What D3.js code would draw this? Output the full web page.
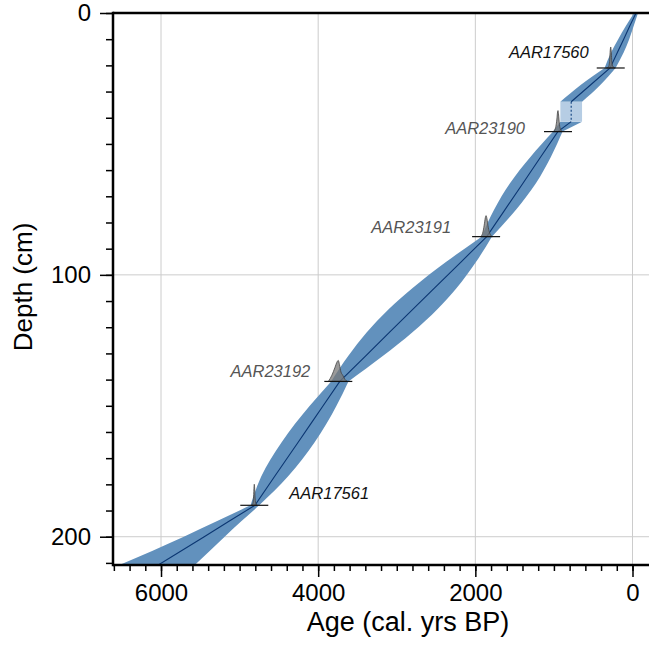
<!DOCTYPE html>
<html>
<head>
<meta charset="utf-8">
<script src="https://cdn.jsdelivr.net/npm/d3@7"></script>
<style>
  html, body { margin: 0; padding: 0; background: #ffffff; }
  svg { display: block; font-family: 'Liberation Sans', Arial, sans-serif; }
</style>
</head>
<body>
<svg id="age-depth"></svg>
<script>
// Age-depth model, depth in cm, ages in cal. yrs BP
const modelDepths = [0, 5, 10, 15, 21, 27.5, 33.9, 41.5, 45.3, 55, 65, 75, 85.4, 95, 105, 113, 122, 131, 140.7, 150, 157, 164, 177, 188, 194, 200, 210.8];
const ageMedian   = [-45, 35, 112, 191, 285, 535, 780, 780, 950, 1169, 1394, 1620, 1855, 2180, 2518, 2790, 3094, 3398, 3725, 3937, 4097, 4257, 4555, 4805, 5130, 5450, 6035];
const ageMin      = [-70, -15, 42, 111, 215, 410, 642, 642, 890, 1039, 1229, 1480, 1790, 1990, 2238, 2480, 2804, 3178, 3615, 3767, 3897, 4047, 4385, 4750, 4975, 5190, 5570];
const ageMax      = [-20, 85, 182, 271, 355, 660, 918, 918, 1010, 1299, 1559, 1760, 1920, 2370, 2798, 3100, 3384, 3618, 3835, 4107, 4297, 4467, 4725, 4860, 5285, 5710, 6530];

// Slump (instantaneous deposit), top and bottom depth
const slumpDepths = [33.9, 41.5];

// Radiocarbon dates
const dateLabels = ['AAR17560', 'AAR23190', 'AAR23191', 'AAR23192', 'AAR17561'];
const dateDepths = [21, 45.3, 85.4, 140.7, 188];
const dateGroups = ['a', 'b', 'b', 'b', 'a'];
// calibrated densities: [age, relative height]
const dateDensities = [
  [[330, 0], [305, 0.05], [292, 0.3], [283, 0.85], [277, 1], [271, 0.8], [262, 0.25], [245, 0.05], [220, 0]],
  [[1010, 0], [990, 0.08], [975, 0.25], [962, 0.6], [953, 0.95], [948, 1], [942, 0.85], [930, 0.35], [915, 0.1], [895, 0]],
  [[1935, 0], [1908, 0.15], [1887, 0.55], [1873, 0.9], [1863, 1], [1852, 0.85], [1836, 0.45], [1812, 0.12], [1785, 0]],
  [[3870, 0], [3825, 0.3], [3788, 0.65], [3757, 0.95], [3744, 1], [3729, 0.8], [3710, 0.45], [3688, 0.3], [3660, 0.1], [3630, 0]],
  [[4850, 0], [4832, 0.08], [4822, 0.4], [4816, 0.9], [4813, 1], [4809, 0.85], [4803, 0.35], [4792, 0.08], [4775, 0]]
];

const depthTicks = [0, 100, 200];
const ageTicks = [0, 2000, 4000, 6000];
const depthDomain = [0, 210.8];
const ageDomain = [6611, -210];

class AgeDepthPlot {
  constructor() {
    this.width = 649;
    this.height = 648;
    this.margin = { top: 13, right: 0, bottom: 83, left: 113 };
    this.init();
  }

  init() {
    this.svg = d3.select('#age-depth')
      .attr('width', this.width)
      .attr('height', this.height);

    this.x = d3.scaleLinear().domain(ageDomain)
      .range([this.margin.left, this.width - this.margin.right]);
    this.y = d3.scaleLinear().domain(depthDomain)
      .range([this.margin.top, this.height - this.margin.bottom]);

    this.rows = modelDepths.map((d, i) => ({
      depth: d, min: ageMin[i], median: ageMedian[i], max: ageMax[i]
    }));

    this.drawGrid();
    this.drawModel();
    this.drawDates();
    this.drawAxes();
  }

  drawGrid() {
    const g = this.svg.append('g').attr('class', 'grid');
    const [x0, x1] = this.x.range();
    const [y0, y1] = this.y.range();

    g.selectAll('line.v').data(ageTicks).enter().append('line')
      .attr('x1', d => this.x(d)).attr('x2', d => this.x(d))
      .attr('y1', y0).attr('y2', y1)
      .attr('stroke', '#cccccc').attr('stroke-width', 1);

    g.selectAll('line.h').data(depthTicks.filter(d => d > 0)).enter().append('line')
      .attr('x1', x0).attr('x2', x1)
      .attr('y1', d => this.y(d)).attr('y2', d => this.y(d))
      .attr('stroke', '#cccccc').attr('stroke-width', 1);
  }

  drawModel() {
    const [slumpTop, slumpBottom] = slumpDepths;
    const upper = this.rows.filter(r => r.depth <= slumpTop);
    const lower = this.rows.filter(r => r.depth >= slumpBottom);

    this.svg.append('clipPath').attr('id', 'plot-clip')
      .append('rect')
      .attr('x', this.x.range()[0]).attr('y', this.y.range()[0])
      .attr('width', this.x.range()[1] - this.x.range()[0])
      .attr('height', this.y.range()[1] - this.y.range()[0]);

    const g = this.svg.append('g').attr('clip-path', 'url(#plot-clip)');

    const band = d3.area()
      .y(d => this.y(d.depth))
      .x0(d => this.x(d.max))
      .x1(d => this.x(d.min))
      .curve(d3.curveMonotoneY);

    const median = d3.line()
      .x(d => this.x(d.median))
      .y(d => this.y(d.depth));

    // split the band at the dated depths so each lens pinches at its date
    const breaks = [depthDomain[0], ...dateDepths, slumpTop, slumpBottom, depthDomain[1]]
      .sort((a, b) => a - b);
    for (let i = 0; i < breaks.length - 1; i++) {
      if (breaks[i] === slumpTop) continue;
      const seg = this.rows.filter(r => r.depth >= breaks[i] && r.depth <= breaks[i + 1]);
      if (seg.length < 2) continue;
      g.append('path').datum(seg)
        .attr('d', band)
        .attr('fill', '#6291bd');
    }

    // Slump box
    const topRow = upper[upper.length - 1];
    g.append('rect')
      .attr('x', this.x(topRow.max))
      .attr('y', this.y(slumpTop))
      .attr('width', this.x(topRow.min) - this.x(topRow.max))
      .attr('height', this.y(slumpBottom) - this.y(slumpTop))
      .attr('fill', '#b6cde4');

    g.append('line')
      .attr('x1', this.x(topRow.median)).attr('x2', this.x(topRow.median))
      .attr('y1', this.y(slumpTop)).attr('y2', this.y(slumpBottom))
      .attr('stroke', '#1f4f8a').attr('stroke-width', 1.2)
      .attr('stroke-dasharray', '2,2');

    [upper, lower].forEach(seg => {
      g.append('path').datum(seg)
        .attr('d', median)
        .attr('fill', 'none')
        .attr('stroke', '#0b3672')
        .attr('stroke-width', 1.1);
    });
  }

  drawDates() {
    const h = 21; // peak height in px
    const halfLine = 14;
    const labelLayout = [
      { anchor: 'end', dx: -22, dy: -10 },
      { anchor: 'end', dx: -33, dy: 2 },
      { anchor: 'end', dx: -35, dy: -4 },
      { anchor: 'end', dx: -28, dy: -4 },
      { anchor: 'start', dx: 35, dy: -6 }
    ];

    const g = this.svg.append('g').attr('class', 'dates');

    dateLabels.forEach((label, i) => {
      const dens = dateDensities[i];
      const yBase = this.y(dateDepths[i]);
      const peak = dens.reduce((a, b) => (b[1] > a[1] ? b : a));
      const xPeak = this.x(peak[0]);

      const area = d3.area()
        .x(d => this.x(d[0]))
        .y0(yBase)
        .y1(d => yBase - d[1] * h)
        .curve(d3.curveMonotoneX);

      g.append('path').datum(dens)
        .attr('d', area)
        .attr('fill', 'rgba(120,120,120,0.75)')
        .attr('stroke', '#444444')
        .attr('stroke-width', 0.8);

      g.append('line')
        .attr('x1', xPeak - halfLine).attr('x2', xPeak + halfLine)
        .attr('y1', yBase).attr('y2', yBase)
        .attr('stroke', '#111111').attr('stroke-width', 1.2);

      const lay = labelLayout[i];
      g.append('text')
        .text(label)
        .attr('x', xPeak + lay.dx)
        .attr('y', yBase + lay.dy)
        .attr('text-anchor', lay.anchor)
        .style('font-size', '16.5px')
        .style('font-style', 'italic')
        .style('fill', dateGroups[i] === 'a' ? '#111111' : '#555555');
    });
  }

  drawAxes() {
    const [x0, x1] = this.x.range();
    const [y0, y1] = this.y.range();

    // minor ticks
    const minorDepth = d3.range(0, depthDomain[1], 10);
    const minorAge = d3.range(0, ageDomain[0], 200);

    const yMinor = this.svg.append('g')
      .attr('transform', `translate(${x0},0)`)
      .call(d3.axisLeft(this.y).tickValues(minorDepth).tickSize(7).tickSizeOuter(0).tickFormat(''));
    const yMajor = this.svg.append('g')
      .attr('transform', `translate(${x0},0)`)
      .call(d3.axisLeft(this.y).tickValues(depthTicks).tickSize(13).tickSizeOuter(0).tickPadding(9)
        .tickFormat(d3.format('d')));

    const xMinor = this.svg.append('g')
      .attr('transform', `translate(0,${y1})`)
      .call(d3.axisBottom(this.x).tickValues(minorAge).tickSize(6).tickSizeOuter(0).tickFormat(''));
    const xMajor = this.svg.append('g')
      .attr('transform', `translate(0,${y1})`)
      .call(d3.axisBottom(this.x).tickValues(ageTicks).tickSize(12).tickSizeOuter(0).tickPadding(7)
        .tickFormat(d3.format('d')));

    [yMinor, yMajor, xMinor, xMajor].forEach(ax => {
      ax.selectAll('.tick line').attr('stroke', '#000').attr('stroke-width', 1.5);
      ax.select('.domain').remove();
      ax.selectAll('text')
        .style('font-family', "'Liberation Sans', Arial, sans-serif")
        .style('font-size', '24px')
        .style('fill', '#000');
    });

    // frame lines
    const frame = this.svg.append('g').attr('stroke', '#000').attr('stroke-width', 2.5);
    frame.append('line').attr('x1', x0).attr('x2', x0).attr('y1', y0 - 1.25).attr('y2', y1 + 1.25);
    frame.append('line').attr('x1', x0).attr('x2', x1).attr('y1', y1).attr('y2', y1);
    frame.append('line').attr('x1', x0).attr('x2', x1).attr('y1', y0).attr('y2', y0);

    // axis titles
    this.svg.append('text')
      .text('Age (cal. yrs BP)')
      .attr('x', 408).attr('y', 631)
      .attr('text-anchor', 'middle')
      .style('font-size', '27px')
      .style('fill', '#000');

    this.svg.append('text')
      .text('Depth (cm)')
      .attr('transform', 'translate(32,287) rotate(-90)')
      .attr('text-anchor', 'middle')
      .style('font-size', '26px')
      .style('fill', '#000');
  }
}

document.addEventListener('DOMContentLoaded', () => {
  window.ageDepthPlot = new AgeDepthPlot();
});
</script>
</body>
</html>
